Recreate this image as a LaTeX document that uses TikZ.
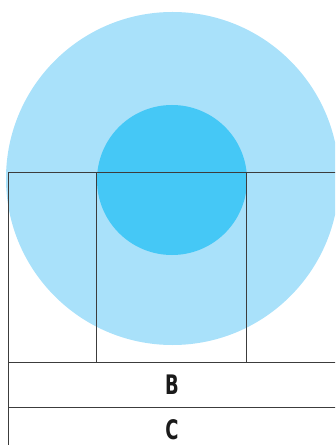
\documentclass[tikz,border=0pt]{standalone}
\usepackage{fontspec}
\setmainfont{Liberation Sans}
\newfontfamily\lblfont{DejaVu Sans Condensed Bold}
\definecolor{bigblue}{HTML}{A9E1FA}
\definecolor{smallblue}{HTML}{45C8F6}
\definecolor{gridline}{HTML}{3C3C3C}
\definecolor{txt}{HTML}{1A1A1A}
\newcommand{\lbltext}[1]{\scalebox{0.74}[1]{\fontsize{27}{29}\lblfont #1}}
\tikzset{
  gridln/.style={draw=gridline, line width=1bp},
  lbl/.style={text=txt, inner sep=0pt}
}
\begin{document}
\begin{tikzpicture}[x=1bp,y=-1bp]
\useasboundingbox (0,0) rectangle (335,445);
\clip (0,0) rectangle (335,445);
\fill[bigblue] (172.5,178.5) circle (166.5);
\fill[smallblue] (172,180) circle (75);
\coordinate (tl) at (8,172.5);
\coordinate (tr) at (336,172.5);
\coordinate (bl) at (8,446);
\coordinate (v1t) at (96,172.5);
\coordinate (v1b) at (96,362);
\coordinate (v2t) at (246,172.5);
\coordinate (v2b) at (246,362);
\coordinate (r1l) at (8,362);
\coordinate (r1r) at (336,362);
\coordinate (r2l) at (8,407.5);
\coordinate (r2r) at (336,407.5);
\draw[gridln] (tl) -- (tr);
\draw[gridln] (tl) -- (bl);
\draw[gridln] (v1t) -- (v1b);
\draw[gridln] (v2t) -- (v2b);
\draw[gridln] (r1l) -- (r1r);
\draw[gridln] (r2l) -- (r2r);
\node[lbl] (B) at (172,385) {\lbltext{B}};
\node[lbl] (C) at (172,429.5) {\lbltext{C}};
\end{tikzpicture}
\end{document}
